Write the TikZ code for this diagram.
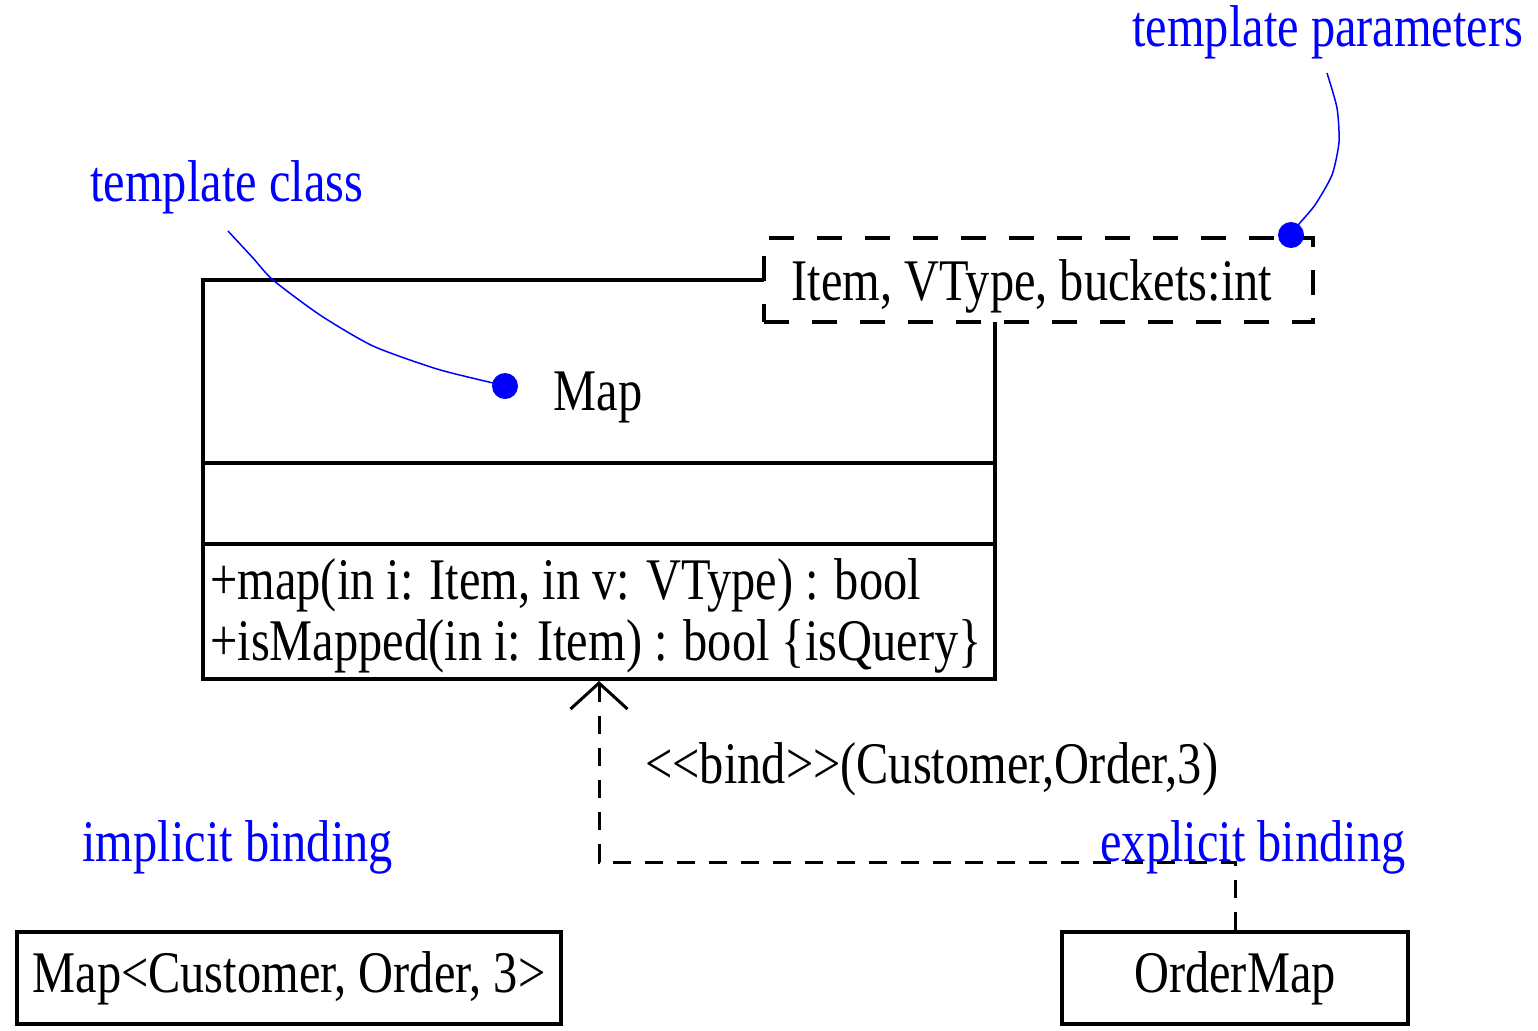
\documentclass[tikz,border=0pt]{standalone}
\usepackage{fontspec}
\setmainfont{Liberation Serif}[FakeStretch=0.82]
\usetikzlibrary{arrows.meta}
\definecolor{lblue}{RGB}{0,0,255}
\tikzset{
  txt/.style={inner sep=0pt, font=\fontsize{29.5}{35}\selectfont},
  note/.style={txt, text=lblue, anchor=base west},
  boxln/.style={line width=2pt},
  tmplbox/.style={draw, dash pattern=on 12.5pt off 11.5pt, line width=2pt, fill=white,
     minimum width=274.5pt, minimum height=42pt, inner sep=0pt},
  inst/.style={draw, line width=1.75pt, minimum width=272pt, minimum height=46pt, inner sep=0pt, txt},
  dep/.style={dash pattern=on 9pt off 7pt, line width=1.5pt},
  leader/.style={lblue, line width=0.75pt},
  dot/.style={circle, fill=lblue, minimum size=13pt, inner sep=0pt},
}
\begin{document}
\begin{tikzpicture}[x=0.5pt, y=-0.5pt]
\useasboundingbox (0,0) rectangle (1538,1030);
% class box
\node[draw, boxln, minimum width=396pt, minimum height=199.5pt, inner sep=0pt] (cls) at (599,479.5) {};
\draw[boxln] (203,463) -- (995,463);
\draw[boxln] (203,544) -- (995,544);
\node[txt, anchor=base] (mapname) at (598,410) {Map};
\node[txt, anchor=base west] (op1) at (210,599) {+map(in i: Item, in v: VType) : bool};
\node[txt, anchor=base west] (op2) at (210,660) {+isMapped(in i: Item) : bool \{isQuery\}};
% template parameters box
\node[tmplbox] (tpl) at (1038.5,280) {};
\node[txt, anchor=base] (tpltxt) at (1032,300) {Item, VType, buckets:int};
% annotations
\node[note] (ntc) at (90,201) {template class};
\node[note] (ntp) at (1132,46) {template parameters};
\node[note] (nib) at (82,861) {implicit binding};
\node[dot] (d1) at (505,386) {};
\node[dot] (d2) at (1291,235) {};
\draw[leader] plot[smooth, tension=0.4] coordinates {(228,231) (253,258) (273,280) (320,315) (373,346) (437,369) (493,383) (505,386)};
\draw[leader] plot[smooth, tension=0.4] coordinates {(1327,73) (1337,108) (1339,142) (1332,175) (1315,205) (1299,224) (1291,235)};
% instances
\node[inst] (mc) at (289,978) {Map{<}Customer, Order, 3{>}};
\node[inst, minimum width=173pt] (om) at (1235,978) {OrderMap};
% binding dependency
\coordinate (bend) at (599,862);
\draw[dep, -{Straight Barb[length=13pt, width=28.5pt, line width=1.5pt]}] (om.north) |- (bend) -- (cls.south);
\node[txt, anchor=base west] (bind) at (645,783) {{<}{<}bind{>}{>}(Customer,Order,3)};
\node[note] (neb) at (1100,861) {explicit binding};
\end{tikzpicture}
\end{document}
